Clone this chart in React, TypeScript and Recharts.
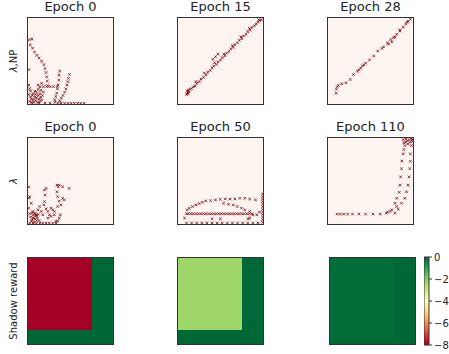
import React from 'react';
import { ScatterChart, Scatter, XAxis, YAxis, ReferenceArea } from 'recharts';

// ── data (axes normalised to 0..100) ──────────────────────────
type Pt = [number, number];

const npEpoch0: Pt[] = [
  [1.5, 74.8], [4.6, 75.6], [2.7, 68.7], [5.4, 64.9], [7.7, 60.3], [10.4, 56.5], [13.1, 53.4],
  [16.2, 49.6], [18.8, 45.8], [20, 41.2], [21.2, 36.6], [21.9, 31.7], [22.7, 26.7], [23.1, 21.4],
  [18, 20.2], [22, 20.2], [26, 20.2], [30, 20.2], [34.6, 20.2], [12, 22], [14, 20], [16, 24],
  [37.3, 38.2], [36.5, 33.6], [36.2, 27.9], [35.4, 22.1], [34.6, 17.6], [33.8, 12.6], [32.7, 8.8], [31.5, 5],
  [48.8, 34.4], [47.7, 29.8], [46.9, 26], [45.8, 22.1], [44.6, 17.6], [43.1, 13.7], [41.2, 9.9], [39.2, 6.9], [37.3, 3.8],
  [20, 1], [26, 1], [31.5, 2], [35.4, 1.5], [39, 1], [43, 0.8], [47, 0.8], [50.8, 0.8], [54.6, 0.8], [58.5, 0.8], [62, 0.8], [66, 0.8],
  [2, 3], [4, 6], [5, 10], [3, 15], [6, 12], [8, 8], [9, 4], [10, 14], [12, 10], [13, 6], [7, 2], [11, 2],
  [14, 12], [15, 16], [16, 5], [3, 8], [6, 5], [9, 11], [12, 17], [1, 11], [4, 2], [8, 15], [10, 7],
  [14, 3], [17, 10], [18, 14], [2, 18], [5, 1], [13, 1], [15, 8], [1, 22], [1, 40],
];

const npEpoch15: Pt[] = [
  [11, 13], [12, 16], [13, 14], [14, 17], [16, 18], [18, 20], [20, 21], [22, 24], [25, 26], [27, 29],
  [30, 31], [33, 34], [35, 37], [38, 39], [40, 42], [42, 44], [45, 46], [47, 49], [50, 51], [52, 54],
  [55, 56], [57, 59], [60, 61], [62, 64], [65, 66], [67, 69], [70, 71], [72, 74], [75, 76], [77, 79],
  [80, 81], [82, 84], [85, 86], [87, 89], [90, 91], [92, 93], [94, 95], [96, 97], [98, 98],
  [21, 26], [31, 36], [43, 48], [54, 58], [64, 68], [74, 78], [84, 88], [95, 98],
  [44, 55], [47, 58], [41, 52], [10, 11], [12, 12], [11, 15],
];

const npEpoch28: Pt[] = [
  [9.6, 12.5], [10, 17.1], [10.8, 20.2], [12.3, 21.7], [16.2, 23.6], [21.2, 24.7], [26.2, 28.5], [30, 34.2],
  [34.6, 38], [38.5, 41.8], [40.4, 44.5], [44.2, 47.5], [48.8, 51.3], [53.8, 55.9], [58.5, 61.6], [63.5, 64.6],
  [70, 71.1], [73.8, 74.9], [76.9, 77.2], [80.8, 81], [84.6, 84.8], [88.5, 89.4], [91.5, 93.2], [94.2, 96.2],
  [96.9, 98.5], [36.5, 39.9], [42.3, 45.6], [75, 72.2], [78.8, 78], [84.6, 86.3], [93, 95], [71.2, 69.6], [65.4, 66.5],
];

const lamEpoch0: Pt[] = [
  [1.9, 31.8], [3.9, 24.1], [0.8, 18.4], [5.8, 14.6], [7.8, 12.6], [9.7, 10.7], [11.6, 16.5], [13.6, 20.3],
  [15.5, 14.6], [17.4, 10.7], [19.4, 26.1], [20.2, 33.7], [21.3, 41.4], [19.4, 39.5], [18.6, 22.2], [21.3, 17.6],
  [23.3, 14.6], [27.1, 8.8], [31, 14.6], [34.1, 45.2], [35.7, 43.3], [36.8, 45.2], [40.7, 43.3], [48.4, 41.4],
  [34.1, 37.5], [34.9, 31.8], [36.8, 26.8], [38.8, 22.2], [34.9, 20.3], [38, 10.7], [36.8, 6.9], [34.9, 3.8],
  [32.9, 3.1], [29.1, 16.5], [42.6, 28], [40.7, 29.9], [27.1, 18.4], [25.2, 10.7], [23.3, 6.9], [31, 10.7],
  [3, 8], [5, 5], [6, 10], [8, 6], [10, 4], [4, 3], [9, 9], [11, 7], [7, 2], [12, 11], [2, 12], [13, 4],
  [6, 7], [8, 12], [10, 10], [5, 13],
  [2, 1], [6, 1], [10, 1], [14, 1], [17.4, 1], [21.3, 1], [25, 1], [29, 1], [33, 1], [0.8, 43], [0.8, 30],
];

const lamEpoch50: Pt[] = [
  [10.7, 16.5], [13.4, 18.4], [17.2, 20.3], [21.1, 22.2], [24.9, 23.8], [28.7, 25.3], [32.6, 26.8], [38.3, 27.2],
  [44.1, 28], [49.8, 28.7], [55.6, 29.1], [61.3, 29.1], [67, 29.1], [72.8, 29.9], [78.5, 29.9], [84.3, 29.1], [91.2, 28],
  [53.6, 24.1], [59.4, 23], [65.1, 22.2], [69.7, 20.3], [74.7, 18.4], [78.5, 16.5],
  [10, 11.9], [12, 11.9], [15, 11.9], [18, 11.9], [21, 11.9], [24, 11.9], [27, 11.9], [30, 11.9], [33, 11.9],
  [36, 11.9], [39, 11.9], [42, 11.9], [45, 11.9], [48, 11.9], [51, 11.9], [54, 11.9], [57, 11.9], [60, 11.9],
  [63, 11.9], [66, 11.9], [69, 11.9], [72, 11.9], [75, 11.9], [78, 11.9], [81, 11.9], [84, 11.9], [87, 11.9],
  [10, 1.2], [16, 1.2], [22, 1.2], [28, 1.2], [34, 1.2], [40, 1.2], [46, 1.2], [52, 1.2], [58, 1.2], [64, 1.2],
  [70, 1.2], [76, 1.2], [82, 1.2], [88, 1.2], [94, 1.2],
  [99.5, 2], [99.5, 5], [99.5, 8], [99.5, 11], [99.5, 14], [99.5, 17], [99.5, 20], [99.5, 23], [99.5, 26],
  [99.5, 29], [99.5, 32], [99.5, 35],
  [84.3, 14.6], [88.1, 10.7], [92.7, 10.7], [95.8, 13.8], [82.4, 6.1], [7.7, 6.9], [40.2, 6.1], [49.8, 6.1], [84.3, 6.9],
];

const lamEpoch110: Pt[] = [
  [10.8, 11.5], [14.6, 11.5], [18.5, 11.5], [23.1, 11.5], [28.8, 11.5], [36.5, 11.5], [44.2, 11.5], [53.1, 11.5],
  [61.5, 11.5], [68.5, 12.6], [70, 13.8], [73.1, 14.6], [75, 16.5], [78.8, 12.6], [82.7, 17.2], [80.8, 20.3],
  [78.8, 24.1], [86.5, 24.1], [80.8, 29.9], [90.4, 29.9], [83.8, 36.8], [92.3, 37.5], [84.6, 45.2], [94.2, 45.2],
  [85.4, 54.8], [95.4, 54.8], [86.5, 64.4], [96.2, 64.4], [86.9, 73.2], [96.9, 72.8], [88.5, 81.6], [96.9, 81.6],
  [89.2, 86.6], [90.4, 91.2], [91.5, 95], [93.1, 96.9], [95.4, 98.1], [98.1, 98.9], [89.2, 94.3], [94.2, 93.1],
  [96.2, 95], [99.2, 95.8], [91.5, 98.9], [88.5, 98.1], [98.1, 91.2], [99.2, 98],
];

// shadow reward heatmaps: cell edges and values [column][row from bottom]
const cellXEdges = [0, 75, 100];
const cellYEdges = [0, 6, 16, 100];
const shadowEpoch0 = [[0, 0, -8], [0, 0, 0]];
const shadowEpoch15 = [[0, 0, -2.3], [0, 0, 0]];
const shadowEpoch28 = [[0, -0.08, -0.08], [0, 0, 0]];

const colorbarTicks = [0, -2, -4, -6, -8];
const vmin = -8;
const vmax = 0;

// ── style helpers ─────────────────────────────────────────────
const RdYlGn = ['#a50026', '#d73027', '#f46d43', '#fdae61', '#fee08b', '#ffffbf', '#d9ef8b', '#a6d96a', '#66bd63', '#1a9850', '#006837'];
const FONT = '"DejaVu Sans", sans-serif';
const MARKER = '#7a0512';

const hex = (c: string) => [1, 3, 5].map(i => parseInt(c.slice(i, i + 2), 16));
const cmap = (v: number) => {
  const t = Math.min(1, Math.max(0, (v - vmin) / (vmax - vmin))) * (RdYlGn.length - 1);
  const i = Math.min(RdYlGn.length - 2, Math.floor(t));
  const f = t - i;
  const a = hex(RdYlGn[i]);
  const b = hex(RdYlGn[i + 1]);
  const m = a.map((x, k) => Math.round(x + (b[k] - x) * f));
  return `rgb(${m[0]},${m[1]},${m[2]})`;
};

const Cross = (props: any) => {
  const { cx, cy } = props;
  if (cx == null || cy == null) return null;
  const s = 1.3;
  return (
    <g stroke={MARKER} strokeWidth={0.8}>
      <line x1={cx - s} y1={cy - s} x2={cx + s} y2={cy + s} />
      <line x1={cx - s} y1={cy + s} x2={cx + s} y2={cy - s} />
    </g>
  );
};

const PW = 87;
const PH = 88;
const boxStyle = (left: number, top: number): React.CSSProperties => ({
  position: 'absolute', left, top, width: PW, height: PH, boxSizing: 'border-box', border: '1px solid #333',
});

const PointPanel = ({ left, top, pts }: { left: number; top: number; pts: Pt[] }) => (
  <div style={{ ...boxStyle(left, top), background: '#fff5f0' }}>
    <ScatterChart width={PW - 2} height={PH - 2} margin={{ top: 0, right: 0, bottom: 0, left: 0 }}>
      <XAxis type="number" dataKey="x" domain={[0, 100]} hide />
      <YAxis type="number" dataKey="y" domain={[0, 100]} hide />
      <Scatter data={pts.map(([x, y]) => ({ x, y }))} shape={(p: any) => <Cross {...p} />} isAnimationActive={false} />
    </ScatterChart>
  </div>
);

// invisible anchor points at the cell corners so the chart has data for its axes
const corners = cellXEdges.flatMap(x => cellYEdges.map(y => ({ x, y })));

const HeatPanel = ({ left, top, cells }: { left: number; top: number; cells: number[][] }) => (
  <div style={{ ...boxStyle(left, top), background: cmap(vmax) }}>
    <ScatterChart width={PW - 2} height={PH - 2} margin={{ top: 0, right: 0, bottom: 0, left: 0 }}>
      <XAxis type="number" dataKey="x" domain={[0, 100]} hide />
      <YAxis type="number" dataKey="y" domain={[0, 100]} hide />
      {cells.map((col, ci) =>
        col.map((v, ri) => (
          <ReferenceArea
            key={`${ci}-${ri}`}
            x1={cellXEdges[ci]} x2={cellXEdges[ci + 1]}
            y1={cellYEdges[ri]} y2={cellYEdges[ri + 1]}
            fill={cmap(v)} fillOpacity={1} stroke="none" shapeRendering="crispEdges" ifOverflow="visible"
          />
        ))
      )}
      <Scatter data={corners} shape={() => <g />} isAnimationActive={false} />
    </ScatterChart>
  </div>
);

const Title = ({ left, top, text }: { left: number; top: number; text: string }) => (
  <div style={{ position: 'absolute', left: left - 20, top: top - 17, width: PW + 40, textAlign: 'center', fontSize: 13, lineHeight: '14px', color: '#222' }}>
    {text}
  </div>
);

const YLabel = ({ cy, children }: { cy: number; children: React.ReactNode }) => (
  <div style={{ position: 'absolute', left: 14 - 60, top: cy - 6, width: 120, height: 12, lineHeight: '12px', fontSize: 10, textAlign: 'center', color: '#222', transform: 'rotate(-90deg)', whiteSpace: 'nowrap' }}>
    {children}
  </div>
);

const cols = [27, 177, 327];
const rows = [17, 137, 256.5];

export default function App() {
  return (
    <div style={{ position: 'absolute', left: 0, top: 0, width: 449, height: 354, overflow: 'hidden', background: '#fff', fontFamily: FONT }}>
      <Title left={cols[0]} top={rows[0]} text="Epoch 0" />
      <Title left={cols[1]} top={rows[0]} text="Epoch 15" />
      <Title left={cols[2]} top={rows[0]} text="Epoch 28" />
      <Title left={cols[0]} top={rows[1]} text="Epoch 0" />
      <Title left={cols[1]} top={rows[1]} text="Epoch 50" />
      <Title left={cols[2]} top={rows[1]} text="Epoch 110" />

      <YLabel cy={rows[0] + PH / 2}><i>λ</i>,NP</YLabel>
      <YLabel cy={rows[1] + PH / 2}><i>λ</i></YLabel>
      <YLabel cy={rows[2] + PH / 2}>Shadow reward</YLabel>

      <PointPanel left={cols[0]} top={rows[0]} pts={npEpoch0} />
      <PointPanel left={cols[1]} top={rows[0]} pts={npEpoch15} />
      <PointPanel left={cols[2]} top={rows[0]} pts={npEpoch28} />
      <PointPanel left={cols[0]} top={rows[1]} pts={lamEpoch0} />
      <PointPanel left={cols[1]} top={rows[1]} pts={lamEpoch50} />
      <PointPanel left={cols[2]} top={rows[1]} pts={lamEpoch110} />

      <HeatPanel left={cols[0]} top={rows[2]} cells={shadowEpoch0} />
      <HeatPanel left={cols[1]} top={rows[2]} cells={shadowEpoch15} />
      <HeatPanel left={cols[2] + 2} top={rows[2]} cells={shadowEpoch28} />

      {/* colorbar */}
      <div style={{ position: 'absolute', left: 424, top: rows[2] - 6 }}>
        <ScatterChart width={40} height={PH + 12} margin={{ top: 6, right: 0, bottom: 6, left: 0 }}>
          <defs>
            <linearGradient id="rdylgn" x1="0" y1="1" x2="0" y2="0">
              {RdYlGn.map((c, i) => (
                <stop key={c} offset={i / (RdYlGn.length - 1)} stopColor={c} />
              ))}
            </linearGradient>
          </defs>
          <XAxis type="number" dataKey="x" domain={[0, 1]} hide />
          <YAxis
            type="number" dataKey="y" orientation="right" domain={[vmin, vmax]} ticks={colorbarTicks}
            width={35} tickSize={3} axisLine={false} tickLine={{ stroke: '#333' }}
            tick={{ fontSize: 10, fill: '#222', fontFamily: FONT }}
            tickFormatter={(v: number) => (v < 0 ? `\u2212${-v}` : `${v}`)}
            interval={0}
          />
          <ReferenceArea x1={0} x2={1} y1={vmin} y2={vmax} fill="url(#rdylgn)" fillOpacity={1} stroke="#333" strokeWidth={1} ifOverflow="visible" />
          <Scatter data={[{ x: 0, y: vmin }, { x: 1, y: vmax }]} shape={() => <g />} isAnimationActive={false} />
        </ScatterChart>
      </div>
    </div>
  );
}
